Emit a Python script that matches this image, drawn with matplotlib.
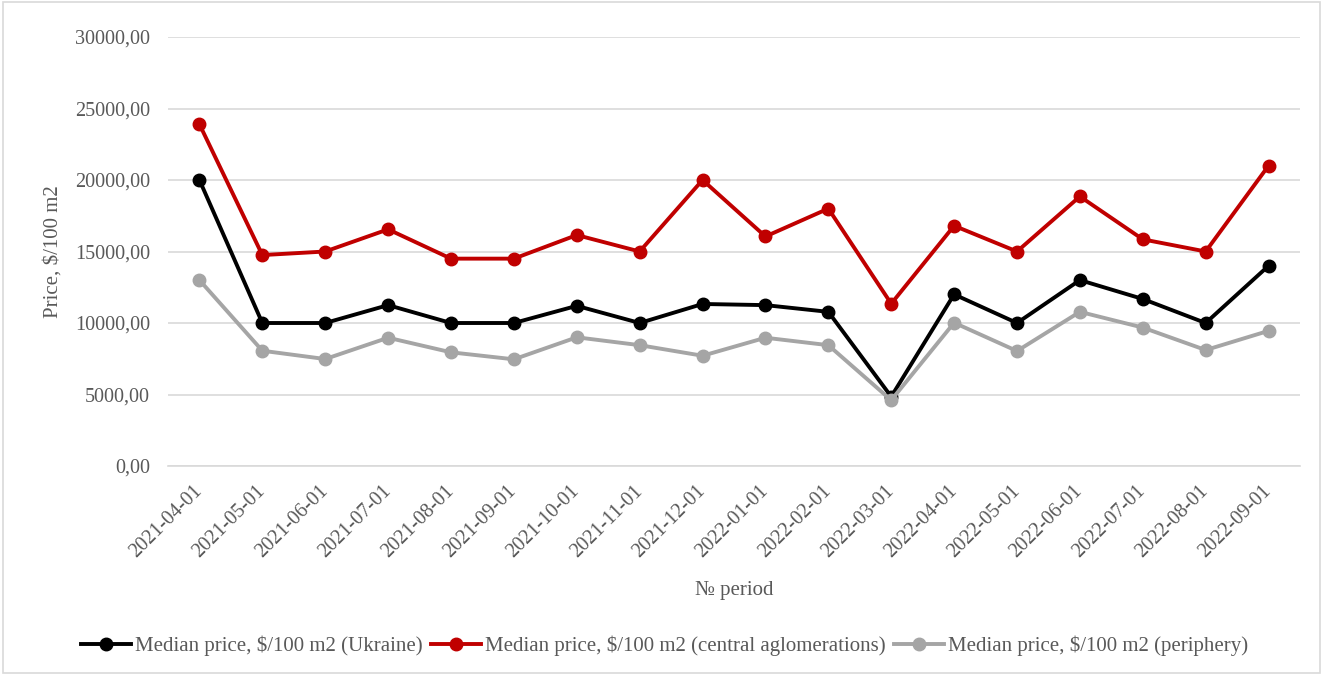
import matplotlib.pyplot as plt
from matplotlib.ticker import FuncFormatter

# monthly median prices, $/100 m2
periods = ["2021-04-01", "2021-05-01", "2021-06-01", "2021-07-01", "2021-08-01",
           "2021-09-01", "2021-10-01", "2021-11-01", "2021-12-01", "2022-01-01",
           "2022-02-01", "2022-03-01", "2022-04-01", "2022-05-01", "2022-06-01",
           "2022-07-01", "2022-08-01", "2022-09-01"]
ukraine = [20000, 10000, 10000, 11250, 10000, 10000, 11200, 10000, 11330, 11250,
           10780, 4850, 12000, 10000, 13000, 11680, 10000, 14000]
central = [23900, 14750, 15000, 16550, 14500, 14500, 16150, 15000, 20000, 16050,
           18000, 11350, 16800, 15000, 18850, 15850, 15000, 21000]
periphery = [13000, 8060, 7480, 8970, 7950, 7460, 9000, 8450, 7710, 8970,
             8450, 4600, 10020, 8040, 10780, 9680, 8110, 9450]

plt.rcParams['font.family'] = ['Liberation Serif', 'DejaVu Serif']

fig = plt.figure(figsize=(13.29, 6.75), dpi=100)
ax = fig.add_axes([168 / 1329, 1 - 466 / 675, (1300 - 168) / 1329, (466 - 37) / 675])

x = range(len(periods))
style = dict(linewidth=2.8, marker='o', markersize=9, solid_joinstyle='round')
ax.plot(x, ukraine, color='#000000', label='Median price, $/100 m2 (Ukraine)', **style)
ax.plot(x, central, color='#c00000', label='Median price, $/100 m2 (central aglomerations)', **style)
ax.plot(x, periphery, color='#a5a5a5', label='Median price, $/100 m2 (periphery)', **style)

ax.set_xlim(-0.5, len(periods) - 0.5)
ax.set_ylim(0, 30000)
ax.set_yticks(range(0, 30001, 5000))
ax.yaxis.set_major_formatter(FuncFormatter(lambda v, p: f"{v:.2f}".replace('.', ',')))
ax.set_xticks(list(x))
ax.set_xticklabels(periods, rotation=45, ha='right', va='center', rotation_mode='anchor')

ax.grid(axis='y', color='#d9d9d9', linewidth=1.2)
ax.set_axisbelow(True)
for s in ['top', 'right', 'left']:
    ax.spines[s].set_visible(False)
ax.spines['bottom'].set_color('#d9d9d9')
ax.spines['bottom'].set_linewidth(1.2)
ax.tick_params(length=0, labelsize=14.5, colors='#595959')
ax.tick_params(axis='y', pad=13)
ax.tick_params(axis='x', pad=16)

ax.set_ylabel('Price, $/100 m2', fontsize=15, color='#595959', labelpad=9)
ax.set_xlabel('№ period', fontsize=15, color='#595959', labelpad=14)

fig.legend(loc='center', bbox_to_anchor=(0.5, 1 - 646 / 675), ncol=3, frameon=False,
           fontsize=15, handlelength=2.4, columnspacing=0.4, handletextpad=0.2,
           labelcolor='#595959')

# thin frame around the whole chart
fig.patches.append(plt.Rectangle((0.002, 0.003), 0.991, 0.994, transform=fig.transFigure,
                                 fill=False, edgecolor='#d9d9d9', linewidth=1.2))

fig.savefig('out.png', dpi=100)
